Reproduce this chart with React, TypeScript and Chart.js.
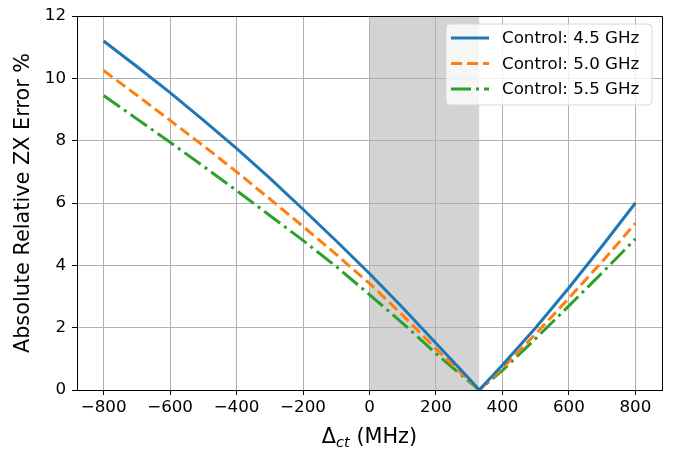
import React, { useEffect, useRef } from "react";
import { Chart, registerables } from "chart.js";

Chart.register(...registerables);

// ---- data ----
const detuning = [-800, -700, -600, -500, -400, -300, -200, -100, 0, 100, 200, 300, 330, 400, 500, 600, 700, 800];
const err45 = [11.2, 10.38, 9.54, 8.66, 7.75, 6.8, 5.8, 4.78, 3.74, 2.64, 1.5, 0.36, 0, 0.8, 2.0, 3.28, 4.62, 6.0];
const err50 = [10.25, 9.46, 8.65, 7.84, 7.0, 6.13, 5.25, 4.35, 3.42, 2.4, 1.32, 0.3, 0, 0.7, 1.8, 2.95, 4.12, 5.35];
const err55 = [9.45, 8.7, 7.95, 7.18, 6.4, 5.6, 4.8, 3.96, 3.06, 2.14, 1.17, 0.27, 0, 0.63, 1.65, 2.7, 3.76, 4.85];
const seriesLabels = ["Control: 4.5 GHz", "Control: 5.0 GHz", "Control: 5.5 GHz"];
const seriesColors = ["#1f77b4", "#ff7f0e", "#2ca02c"];
const seriesDashes: number[][] = [[], [11, 5], [20, 5, 3, 5]];
const xTicks = [-800, -600, -400, -200, 0, 200, 400, 600, 800];
const yTicks = [0, 2, 4, 6, 8, 10, 12];
const xRange = [-880, 880];
const yRange = [0, 12];
const shadedRange = [0, 330];
const yTitle = "Absolute Relative ZX Error %";

const FONT = "DejaVu Sans";
const FS = 16.7;
const TS = 20.8;

const fmt = (v: number) => (v < 0 ? "\u2212" + Math.abs(v) : String(v));

export default function App() {
  const ref = useRef<HTMLCanvasElement | null>(null);

  useEffect(() => {
    const canvas = ref.current;
    if (!canvas) return;
    const seriesValues = [err45, err50, err55];

    const decor = {
      id: "decor",
      beforeDraw(chart: any) {
        const { ctx, chartArea, scales } = chart;
        const x0 = scales.x.getPixelForValue(shadedRange[0]);
        const x1 = scales.x.getPixelForValue(shadedRange[1]);
        ctx.save();
        ctx.fillStyle = "#d3d3d3";
        ctx.fillRect(x0, chartArea.top, x1 - x0, chartArea.bottom - chartArea.top);
        ctx.restore();
      },
      afterDraw(chart: any) {
        const { ctx, chartArea } = chart;
        ctx.save();
        // top & right spines
        ctx.strokeStyle = "#000";
        ctx.lineWidth = 1;
        ctx.beginPath();
        ctx.moveTo(chartArea.left, chartArea.top + 0.5);
        ctx.lineTo(chartArea.right + 0.5, chartArea.top + 0.5);
        ctx.lineTo(chartArea.right + 0.5, chartArea.bottom);
        ctx.stroke();

        // legend
        const bw = 206;
        const bh = 81;
        const bx = chartArea.right - 10 - bw;
        const by = chartArea.top + 8;
        const r = 4;
        ctx.beginPath();
        ctx.moveTo(bx + r, by);
        ctx.lineTo(bx + bw - r, by);
        ctx.quadraticCurveTo(bx + bw, by, bx + bw, by + r);
        ctx.lineTo(bx + bw, by + bh - r);
        ctx.quadraticCurveTo(bx + bw, by + bh, bx + bw - r, by + bh);
        ctx.lineTo(bx + r, by + bh);
        ctx.quadraticCurveTo(bx, by + bh, bx, by + bh - r);
        ctx.lineTo(bx, by + r);
        ctx.quadraticCurveTo(bx, by, bx + r, by);
        ctx.closePath();
        ctx.fillStyle = "rgba(255,255,255,0.8)";
        ctx.fill();
        ctx.strokeStyle = "#d6d6d6";
        ctx.lineWidth = 1;
        ctx.stroke();

        ctx.font = `${FS}px "${FONT}"`;
        ctx.textBaseline = "middle";
        ctx.textAlign = "left";
        for (let i = 0; i < seriesLabels.length; i++) {
          const ry = by + 14 + i * 25.5;
          ctx.strokeStyle = seriesColors[i];
          ctx.lineWidth = 3;
          ctx.lineCap = "butt";
          ctx.setLineDash(seriesDashes[i]);
          ctx.beginPath();
          ctx.moveTo(bx + 5, ry);
          ctx.lineTo(bx + 43, ry);
          ctx.stroke();
          ctx.setLineDash([]);
          ctx.fillStyle = "#000";
          ctx.fillText(seriesLabels[i], bx + 56, ry + 1);
        }

        // x title with subscript
        const cx = (chartArea.left + chartArea.right) / 2;
        const base = 443;
        const partA = "\u0394";
        const partSub = "ct";
        const partB = " (MHz)";
        ctx.textBaseline = "alphabetic";
        ctx.font = `${TS}px "${FONT}"`;
        const wA = ctx.measureText(partA).width;
        const wB = ctx.measureText(partB).width;
        ctx.font = `oblique ${TS * 0.7}px "${FONT}"`;
        const wS = ctx.measureText(partSub).width;
        let tx = cx - (wA + wS + wB) / 2;
        ctx.fillStyle = "#000";
        ctx.font = `${TS}px "${FONT}"`;
        ctx.fillText(partA, tx, base);
        tx += wA;
        ctx.font = `oblique ${TS * 0.7}px "${FONT}"`;
        ctx.fillText(partSub, tx, base + 4);
        tx += wS;
        ctx.font = `${TS}px "${FONT}"`;
        ctx.fillText(partB, tx, base);

        // y title
        ctx.translate(24, (chartArea.top + chartArea.bottom) / 2);
        ctx.rotate(-Math.PI / 2);
        ctx.textAlign = "center";
        ctx.textBaseline = "middle";
        ctx.fillText(yTitle, 0, 0);
        ctx.restore();
      },
    };

    const chart = new Chart(canvas, {
      type: "line",
      data: {
        datasets: seriesLabels.map((label, i) => ({
          label,
          data: detuning.map((x, j) => ({ x, y: seriesValues[i][j] })),
          borderColor: seriesColors[i],
          backgroundColor: seriesColors[i],
          borderWidth: 3,
          borderDash: seriesDashes[i],
          borderCapStyle: "butt",
          pointRadius: 0,
          tension: 0,
          fill: false,
        })),
      },
      options: {
        responsive: false,
        animation: false,
        events: [],
        layout: { padding: { top: 11, right: 15, left: 0, bottom: 0 } },
        plugins: { legend: { display: false }, tooltip: { enabled: false } },
        scales: {
          x: {
            type: "linear",
            min: xRange[0],
            max: xRange[1],
            afterBuildTicks: (s: any) => {
              s.ticks = xTicks.map((v) => ({ value: v }));
            },
            afterFit: (s: any) => {
              s.height = 63;
            },
            ticks: {
              callback: (v: any) => fmt(Number(v)),
              font: { family: FONT, size: FS },
              color: "#000",
              padding: 3,
              maxRotation: 0,
              autoSkip: false,
            },
            grid: { color: "#b0b0b0", lineWidth: 1, tickLength: 5, tickColor: "#000", tickWidth: 1 },
            border: { color: "#000", width: 1 },
          },
          y: {
            type: "linear",
            min: yRange[0],
            max: yRange[1],
            afterBuildTicks: (s: any) => {
              s.ticks = yTicks.map((v) => ({ value: v }));
            },
            afterFit: (s: any) => {
              s.width = 77;
            },
            ticks: {
              callback: (v: any) => fmt(Number(v)),
              font: { family: FONT, size: FS },
              color: "#000",
              padding: 6,
              autoSkip: false,
            },
            grid: { color: "#b0b0b0", lineWidth: 1, tickLength: 5, tickColor: "#000", tickWidth: 1 },
            border: { color: "#000", width: 1 },
          },
        },
      },
      plugins: [decor],
    } as any);

    return () => chart.destroy();
  }, []);

  return (
    <div style={{ position: "fixed", left: 0, top: 0, width: 677, height: 453, background: "#fff" }}>
      <canvas ref={ref} width={677} height={453} style={{ width: 677, height: 453, display: "block" }} />
    </div>
  );
}
